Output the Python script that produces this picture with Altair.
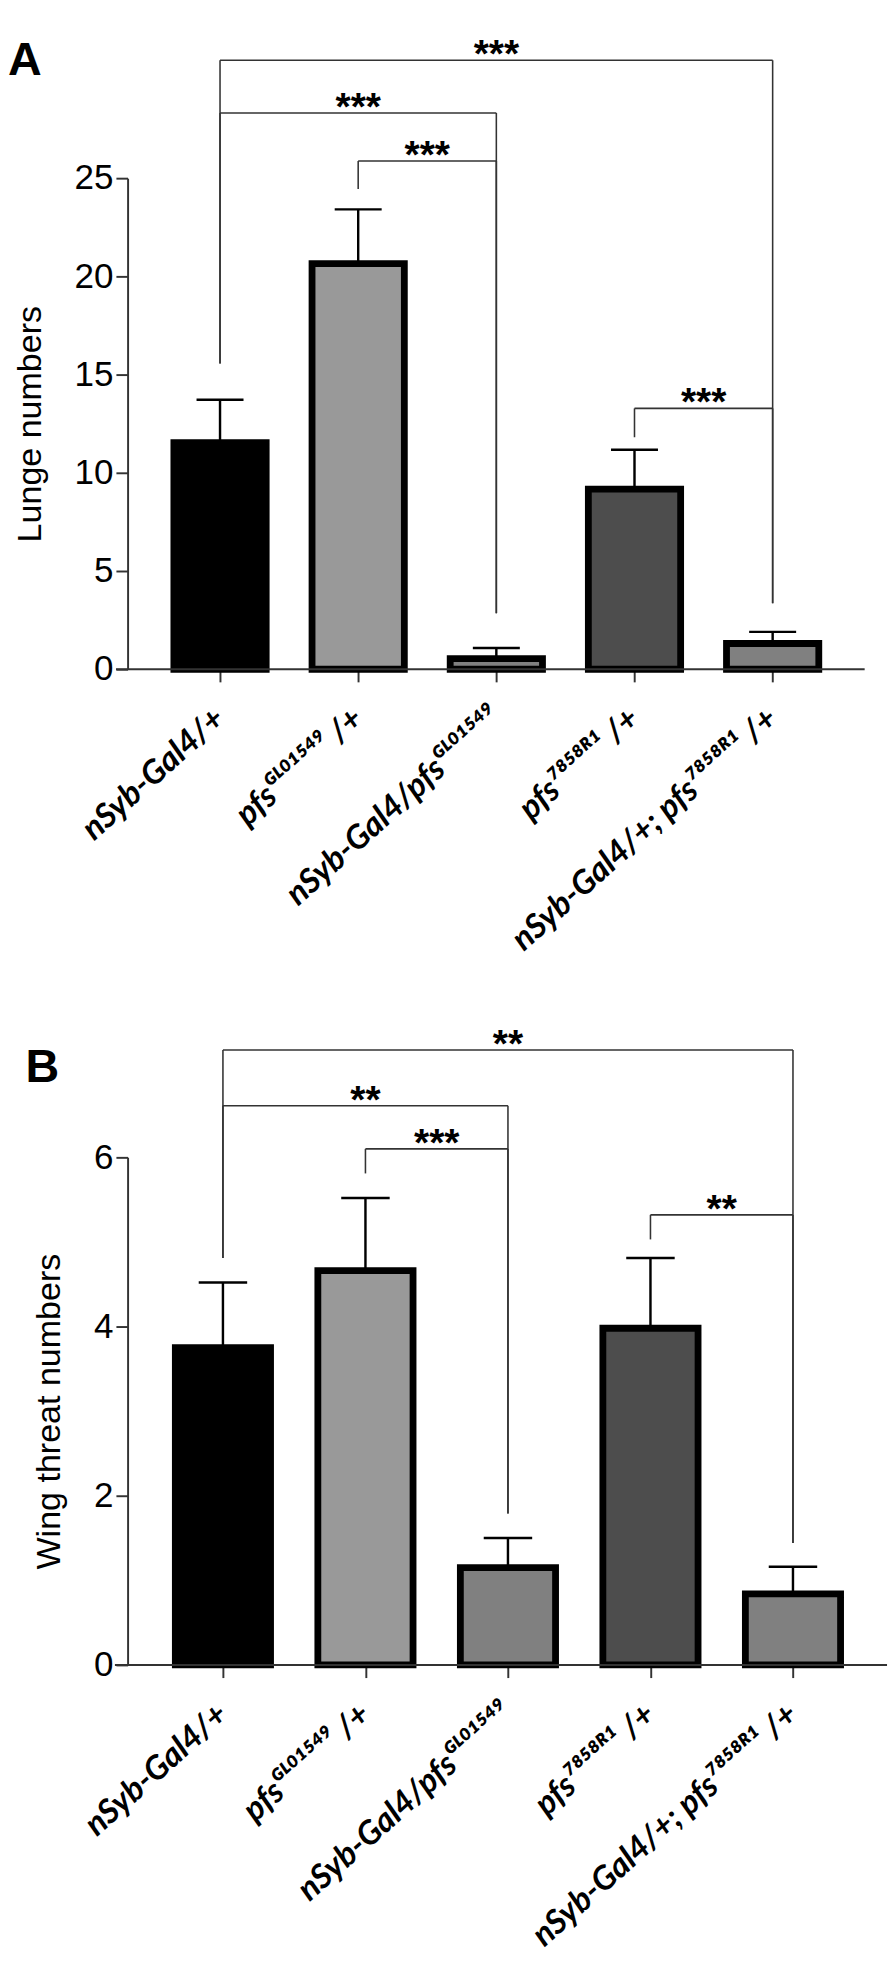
import json
import altair as alt
import pandas as pd

# ---------------- data ----------------
genotypes = [
    "nSyb-Gal4/+",
    "pfsᴳᴸ⁰¹⁵⁴⁹ /+",
    "nSyb-Gal4/pfsᴳᴸ⁰¹⁵⁴⁹",
    "pfs⁷⁸⁵⁸ᴿ¹ /+",
    "nSyb-Gal4/+; pfs⁷⁸⁵⁸ᴿ¹ /+",
]
positions = [0, 1, 2, 3, 4]
bar_fills = ["#000000", "#999999", "#808080", "#4d4d4d", "#808080"]

lunge_mean = [11.53, 20.65, 0.54, 9.17, 1.31]
lunge_sem = [2.19, 2.76, 0.54, 2.00, 0.59]

wing_mean = [3.75, 4.66, 1.15, 3.98, 0.84]
wing_sem = [0.77, 0.86, 0.35, 0.83, 0.32]

# significance brackets (left group, right group, bracket height, leg ends, stars)
lunge_br_left = [0, 0, 1, 3]
lunge_br_right = [4, 2, 2, 4]
lunge_br_height = [31.0, 28.32, 25.87, 13.28]
lunge_br_left_end = [15.56, 15.56, 24.45, 11.81]
lunge_br_right_end = [3.36, 2.85, 2.85, 3.36]
lunge_br_stars = ["***", "***", "***", "***"]

wing_br_left = [0, 0, 1, 3]
wing_br_right = [4, 2, 2, 4]
wing_br_height = [7.27, 6.61, 6.10, 5.32]
wing_br_left_end = [4.81, 4.81, 5.81, 5.03]
wing_br_right_end = [1.44, 1.79, 1.79, 1.44]
wing_br_stars = ["**", "**", "***", "**"]

lunge_ticks = [0, 5, 10, 15, 20, 25]
wing_ticks = [0, 2, 4, 6]

label_expr = json.dumps(genotypes, ensure_ascii=False) + "[round(datum.value)]"

AX = "#333333"
LABEL_FONT = "Lato, Open Sans, DejaVu Sans, sans-serif"


def panel(letter, ytitle, means, sems, yticks, ymax,
          br_l, br_r, br_h, br_le, br_re, br_s,
          width, height, xmin, xmax, xaxis_start, letter_x, letter_y):
    xs = alt.Scale(domain=[xmin, xmax], nice=False, zero=False)
    ys = alt.Scale(domain=[0, ymax], nice=False, zero=True)

    xaxis = alt.Axis(
        values=positions, labelExpr=label_expr, labelAngle=-42,
        labelAlign="right", labelBaseline="middle",
        labelFont=LABEL_FONT, labelFontSize=34, labelFontWeight="bold",
        labelFontStyle="italic", labelColor="black", labelPadding=33,
        labelFlush=False, labelOverlap=False, labelLimit=0,
        tickSize=13, tickColor=AX, tickWidth=2,
        domain=False, grid=False, title=None,
    )
    yaxis = alt.Axis(
        values=yticks, title=ytitle, titleFont="Liberation Sans",
        titleFontSize=35, titleFontWeight="normal", titleColor="black",
        titlePadding=28,
        labelFont="Liberation Sans", labelFontSize=36, labelColor="black",
        labelPadding=3, labelFlush=False, labelOverlap=False,
        tickSize=12, tickColor=AX, tickWidth=2,
        domainColor=AX, domainWidth=2, grid=False,
    )

    def X(field):
        return alt.X(field, scale=xs, axis=xaxis)

    def Y(field):
        return alt.Y(field, scale=ys, axis=yaxis)

    bars_df = pd.DataFrame({"pos": positions, "mean": means, "sem": sems, "fill": bar_fills})
    base = alt.Chart(bars_df).transform_calculate(
        x0="datum.pos - 0.334", x1="datum.pos + 0.334",
        top="datum.mean + datum.sem",
        c0="datum.pos - 0.17", c1="datum.pos + 0.17",
    )

    bar_layer = base.mark_bar(stroke="black", strokeWidth=7).encode(
        x=X("x0:Q"), x2="x1:Q",
        y=Y("mean:Q"), y2=alt.Y2(datum=0),
        fill=alt.Fill("fill:N", scale=None),
    )
    stems = base.mark_rule(color="black", strokeWidth=2.5).encode(
        x=X("pos:Q"), y=Y("mean:Q"), y2="top:Q",
    )
    caps = base.mark_rule(color="black", strokeWidth=2.5).encode(
        x=X("c0:Q"), x2="c1:Q", y=Y("top:Q"),
    )

    br_df = pd.DataFrame({"l": br_l, "r": br_r, "h": br_h, "le": br_le, "re": br_re, "s": br_s})
    br = alt.Chart(br_df)
    horiz = br.mark_rule(color=AX, strokeWidth=1.6).encode(
        x=X("l:Q"), x2="r:Q", y=Y("h:Q"),
    )
    lleg = br.mark_rule(color=AX, strokeWidth=1.6).encode(
        x=X("l:Q"), y=Y("h:Q"), y2="le:Q",
    )
    rleg = br.mark_rule(color=AX, strokeWidth=1.6).encode(
        x=X("r:Q"), y=Y("h:Q"), y2="re:Q",
    )
    stars = br.transform_calculate(mid="(datum.l + datum.r) / 2").mark_text(
        font="Liberation Sans", fontSize=40, fontWeight="bold", color="black",
        baseline="alphabetic", align="center", dy=7,
    ).encode(x=X("mid:Q"), y=Y("h:Q"), text="s:N")

    axis_df = pd.DataFrame({"a": [xaxis_start], "b": [xmax], "z": [0]})
    xline = alt.Chart(axis_df).mark_rule(color=AX, strokeWidth=2).encode(
        x=X("a:Q"), x2="b:Q", y=Y("z:Q"),
    )

    letter_df = pd.DataFrame({"t": [letter]})
    letter_layer = alt.Chart(letter_df).mark_text(
        font="Liberation Sans", fontSize=48, fontWeight="bold", color="black",
        align="left", baseline="alphabetic",
    ).encode(x=alt.value(letter_x), y=alt.value(letter_y), text="t:N")

    return alt.layer(
        horiz, lleg, rleg, stars, stems, caps, bar_layer, xline, letter_layer
    ).properties(width=width, height=height)


panel_a = panel(
    "A", "Lunge numbers", lunge_mean, lunge_sem, lunge_ticks, 25,
    lunge_br_left, lunge_br_right, lunge_br_height,
    lunge_br_left_end, lunge_br_right_end, lunge_br_stars,
    width=758, height=505, xmin=-0.669, xmax=4.666, xaxis_start=-0.753,
    letter_x=-123, letter_y=-106,
)
panel_b = panel(
    "B", "Wing threat numbers", wing_mean, wing_sem, wing_ticks, 6,
    wing_br_left, wing_br_right, wing_br_height,
    wing_br_left_end, wing_br_right_end, wing_br_stars,
    width=781, height=522, xmin=-0.669, xmax=4.66, xaxis_start=-0.758,
    letter_x=-105, letter_y=-77,
)

chart = alt.ConcatChart(
    concat=[panel_a, panel_b], columns=1, spacing=70, align="none",
    padding={"left": 0, "top": 0, "right": 0, "bottom": 0},
).configure_view(strokeWidth=0)

chart.save("out.html", embed_options={"renderer": "svg", "actions": False})
